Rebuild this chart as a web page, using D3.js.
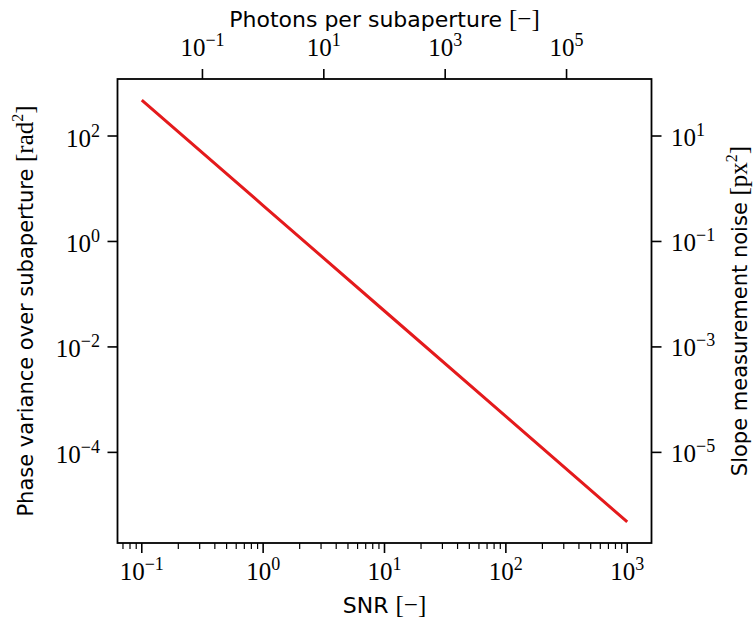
<!DOCTYPE html>
<html>
<head>
<meta charset="utf-8">
<script src="https://cdn.jsdelivr.net/npm/d3@7"></script>
<style>
  body { margin: 0; background: #fff; }
  svg { display: block; }
  .sans { font-family: "DejaVu Sans", sans-serif; }
  .serif { font-family: "Liberation Serif", "DejaVu Serif", serif; }
</style>
</head>
<body>
<svg width="756" height="623"></svg>
<script>
// values
const snr = [0.1, 1, 10, 100, 1000];
const phaseVar = [480, 4.8, 0.048, 0.00048, 0.0000048];
const slopeFactor = 0.1;   // px^2 per rad^2 (right axis sits one decade below left)
const photonPower = 2;     // photons = SNR^2 (top axis)

const bottomTicks = [1e-1, 1e0, 1e1, 1e2, 1e3];
const topTicks = [1e-1, 1e1, 1e3, 1e5];
const leftTicks = [1e2, 1e0, 1e-2, 1e-4];
const rightTicks = [1e1, 1e-1, 1e-3, 1e-5];

const xLabel = "SNR";
const topLabel = "Photons per subaperture";
const leftLabel = "Phase variance over subaperture";
const rightLabel = "Slope measurement noise";

const L = 117.5, R = 651.5, T = 79, B = 543;
const red = "#e41a1c";

const svg = d3.select("svg");

// 5% log margins like matplotlib autoscale
function logPad(vals) {
    const lo = Math.log10(d3.min(vals)), hi = Math.log10(d3.max(vals));
    const m = (hi - lo) * 0.05;
    return [Math.pow(10, lo - m), Math.pow(10, hi + m)];
}

const xDom = logPad(snr);
const yDom = logPad(phaseVar);

const x = d3.scaleLog().domain(xDom).range([L, R]);
const xTop = d3.scaleLog().domain(xDom.map(d => Math.pow(d, photonPower))).range([L, R]);
const y = d3.scaleLog().domain(yDom).range([B, T]);
const yRight = d3.scaleLog().domain(yDom.map(d => d * slopeFactor)).range([B, T]);

// minor ticks for bottom axis (2..9 in each decade)
const minor = [];
for (let e = -3; e <= 4; e++) {
    for (let k = 2; k <= 9; k++) {
        const v = k * Math.pow(10, e);
        if (v >= xDom[0] && v <= xDom[1]) minor.push(v);
    }
}

const tickStroke = 1.6;
const g = svg.append("g");

// minor ticks
g.append("g").selectAll("line").data(minor).join("line")
    .attr("x1", d => x(d)).attr("x2", d => x(d))
    .attr("y1", B).attr("y2", B + 6)
    .attr("stroke", "#000").attr("stroke-width", 1.2);

// major ticks
g.append("g").selectAll("line").data(bottomTicks).join("line")
    .attr("x1", d => x(d)).attr("x2", d => x(d))
    .attr("y1", B).attr("y2", B + 10)
    .attr("stroke", "#000").attr("stroke-width", tickStroke);
g.append("g").selectAll("line").data(topTicks).join("line")
    .attr("x1", d => xTop(d)).attr("x2", d => xTop(d))
    .attr("y1", T).attr("y2", T - 10)
    .attr("stroke", "#000").attr("stroke-width", tickStroke);
g.append("g").selectAll("line").data(leftTicks).join("line")
    .attr("y1", d => y(d)).attr("y2", d => y(d))
    .attr("x1", L).attr("x2", L - 10)
    .attr("stroke", "#000").attr("stroke-width", tickStroke);
g.append("g").selectAll("line").data(rightTicks).join("line")
    .attr("y1", d => yRight(d)).attr("y2", d => yRight(d))
    .attr("x1", R).attr("x2", R + 10)
    .attr("stroke", "#000").attr("stroke-width", tickStroke);

// power-of-ten label
function powLabel(sel, v) {
    const e = Math.round(Math.log10(v));
    sel.append("tspan").attr("font-size", 25).text("10");
    sel.append("tspan").attr("font-size", 18).attr("dy", -10)
        .text(e < 0 ? "\u2212" + (-e) : String(e));
}

function tickLabels(data, pos, anchor) {
    data.forEach(v => {
        const p = pos(v);
        const t = svg.append("text").attr("class", "serif")
            .attr("x", p[0]).attr("y", p[1])
            .attr("text-anchor", anchor).attr("fill", "#000");
        powLabel(t, v);
    });
}

tickLabels(bottomTicks, v => [x(v), 580], "middle");
tickLabels(topTicks, v => [xTop(v), 56], "middle");
tickLabels(leftTicks, v => [100, y(v) + 10.5], "end");
tickLabels(rightTicks, v => [671, yRight(v) + 9.5], "start");

// the line
const line = d3.line().x((d, i) => x(snr[i])).y(d => y(d));
svg.append("path")
    .datum(phaseVar)
    .attr("d", line)
    .attr("fill", "none")
    .attr("stroke", red)
    .attr("stroke-width", 3);

// frame
svg.append("rect")
    .attr("x", L).attr("y", T)
    .attr("width", R - L).attr("height", B - T)
    .attr("fill", "none").attr("stroke", "#000").attr("stroke-width", 1.8);

// axis titles
function unitTitle(t, text, unit, sup) {
    t.append("tspan").attr("class", "sans").text(text + " ");
    t.append("tspan").attr("class", "serif").attr("font-size", 25).text("[" + unit);
    if (sup) {
        t.append("tspan").attr("class", "serif").attr("font-size", 16).attr("dy", -10).text(sup);
        t.append("tspan").attr("class", "serif").attr("font-size", 25).attr("dy", 10).text("]");
    } else {
        t.append("tspan").attr("class", "serif").attr("font-size", 25).text("]");
    }
}

const cx = (L + R) / 2, cy = (T + B) / 2;

unitTitle(svg.append("text").attr("x", cx).attr("y", 613)
    .attr("text-anchor", "middle").attr("font-size", 22), xLabel, "\u2212");
unitTitle(svg.append("text").attr("x", cx).attr("y", 26.5)
    .attr("text-anchor", "middle").attr("font-size", 22), topLabel, "\u2212");
unitTitle(svg.append("text")
    .attr("transform", `translate(33,${cy}) rotate(-90)`)
    .attr("text-anchor", "middle").attr("font-size", 21), leftLabel, "rad", "2");
unitTitle(svg.append("text")
    .attr("transform", `translate(746.5,${cy}) rotate(-90)`)
    .attr("text-anchor", "middle").attr("font-size", 21), rightLabel, "px", "2");
</script>
</body>
</html>
